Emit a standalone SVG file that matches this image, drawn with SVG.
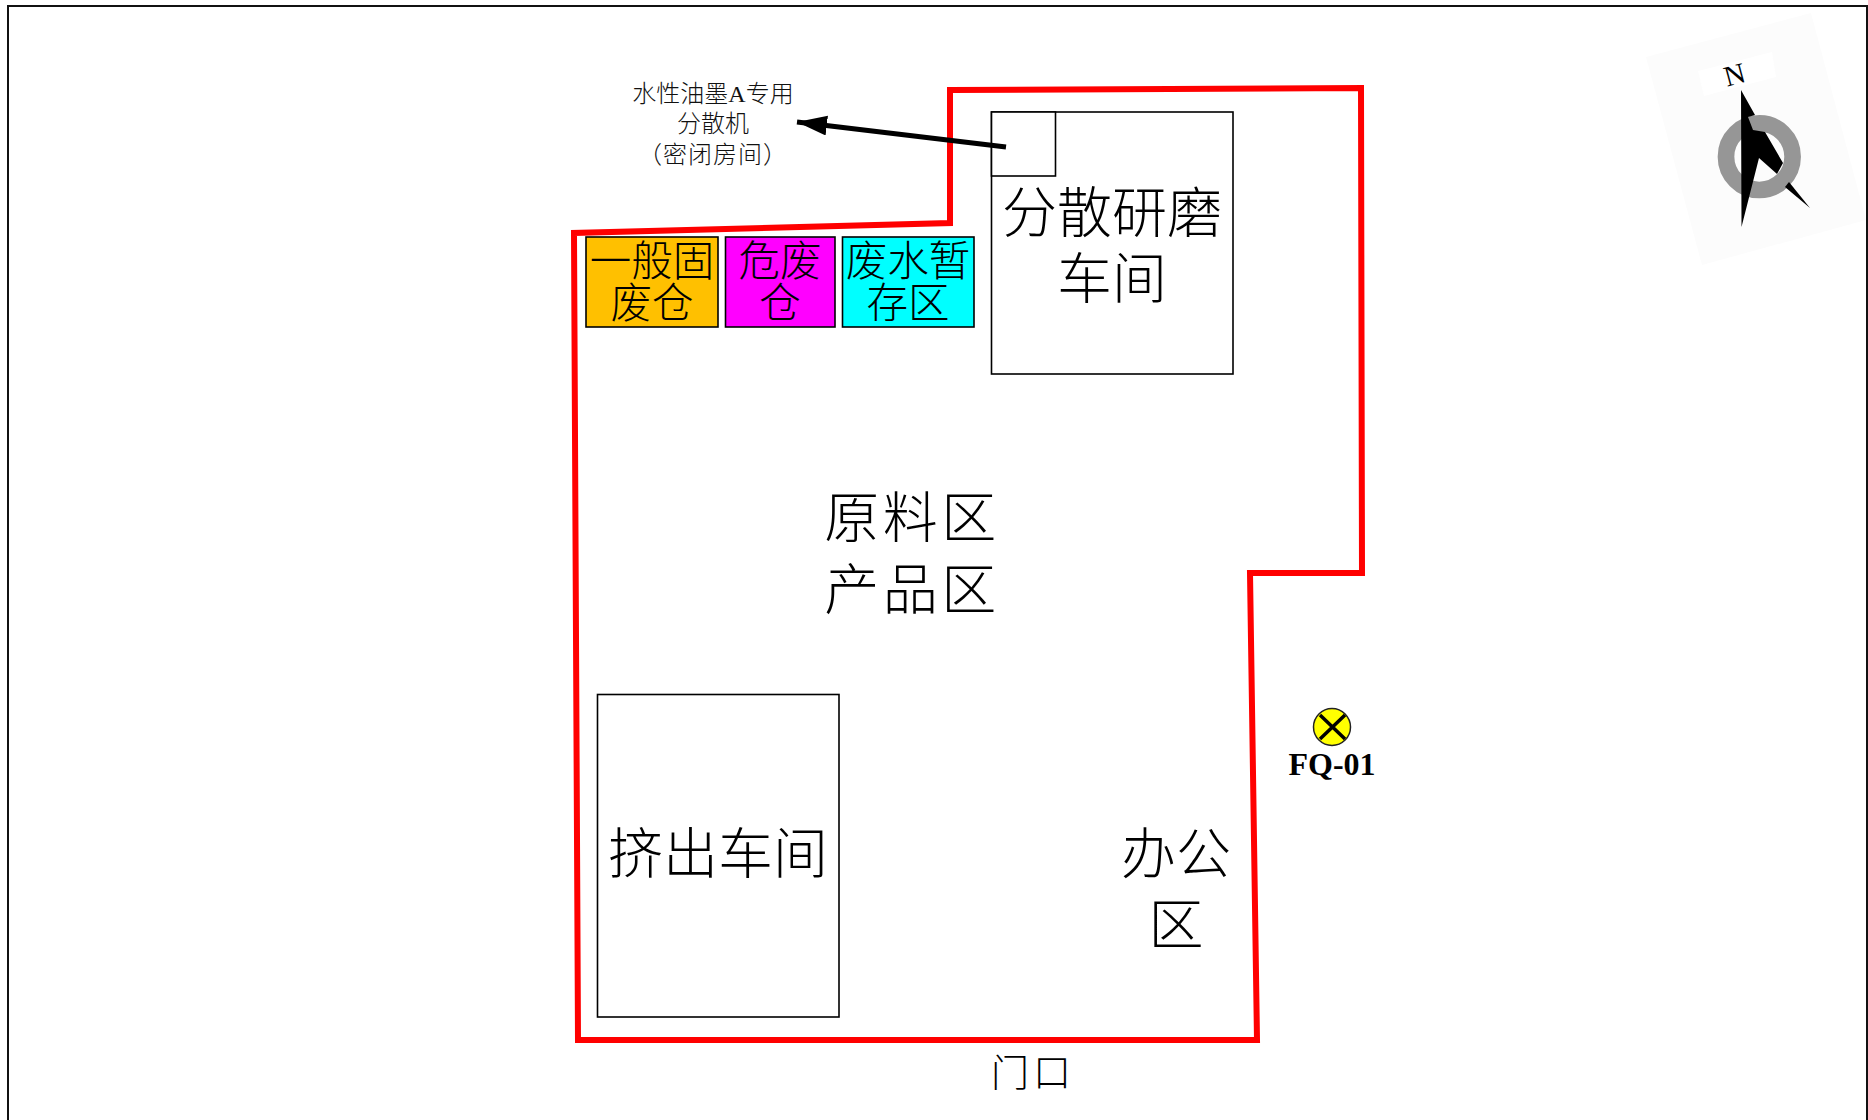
<svg xmlns="http://www.w3.org/2000/svg" width="1868" height="1120" viewBox="0 0 1868 1120">
<defs>
<style>
text{font-family:"Liberation Serif","Noto Sans CJK SC",serif;fill:#000;text-anchor:middle}
.box{stroke:#000;stroke-width:1.600;fill:#fff}
.c{stroke:#000;stroke-width:1.600}
.l{font-size:55px;font-weight:300}
.m{font-size:41.500px;font-weight:300}
.s{font-size:24px;font-weight:300;fill:#111}
</style>
<marker id="ah" markerUnits="userSpaceOnUse" markerWidth="32" markerHeight="24" refX="30" refY="10" orient="auto"><path d="M0 0L30 10L0 20Z" fill="#000"/></marker>
</defs>
<rect width="1868" height="1120" fill="#fff"/>
<rect id="frame" x="8" y="6" width="1859" height="1130" fill="none" stroke="#111" stroke-width="2"/>
<g id="site"><path d="M950 90L1361 88L1362 573L1250 573L1257 1040L578 1040L574 233L950 223Z" fill="none" stroke="#f00" stroke-width="6"/></g>
<g id="gfc"><rect class="c" x="586" y="237" width="132" height="90" fill="#ffc000"/><text class="m" x="652" y="276">一般固</text><text class="m" x="652" y="318">废仓</text></g>
<g id="wfc"><rect class="c" x="725.500" y="237" width="109.500" height="90" fill="#f0f"/><text class="m" x="780" y="276">危废</text><text class="m" x="780" y="318">仓</text></g>
<g id="fsq"><rect class="c" x="842.500" y="237" width="131.500" height="90" fill="#0ff"/><text class="m" x="908" y="276">废水暂</text><text class="m" x="908" y="318">存区</text></g>
<g id="fsym"><rect class="box" x="991.500" y="112" width="241.500" height="262"/><text class="l" x="1112" y="232">分散研磨</text><text class="l" x="1112" y="298">车间</text></g>
<g id="room"><rect class="box" x="991.500" y="112" width="64" height="64"/></g>
<g id="material"><text class="l" x="912" y="537" letter-spacing="3.500">原料区</text><text class="l" x="912" y="609" letter-spacing="3.500">产品区</text></g>
<g id="jc"><rect class="box" x="597.500" y="694.500" width="241.500" height="322.500"/><text class="l" x="718" y="873">挤出车间</text></g>
<g id="office"><text class="l" x="1176" y="873">办公</text><text class="l" x="1176" y="944">区</text></g>
<g id="door"><text x="1033" y="1086" font-size="38" font-weight="300" letter-spacing="4">门口</text></g>
<g id="note"><text class="s" x="713" y="102">水性油墨A专用</text><text class="s" x="713" y="132">分散机</text><text class="s" x="713" y="163" letter-spacing="1">（密闭房间）</text></g>
<g id="connectors"><path d="M1006 147L797 122" fill="none" stroke="#000" stroke-width="5" marker-end="url(#ah)"/></g>
<g id="fq"><circle cx="1332" cy="727" r="18.500" fill="#ff0" stroke="#222" stroke-width="1.500"/><path d="M1320 715L1345 739M1345 715L1320 739" stroke="#000" stroke-width="3.500"/><text x="1332" y="775" font-size="32" font-weight="700">FQ-01</text></g>
<g id="compass">
<path d="M1646 57L1811 13L1866 220L1702 265Z" fill="#fcfcfc"/>
<path d="M1698 71L1772 52L1776 77L1704 96Z" fill="#fff"/>
<circle cx="1759.300" cy="156.700" r="33.300" fill="none" stroke="#969696" stroke-width="16.700"/>
<path d="M1741 90L1755 115L1748 117L1753 130L1765 132L1783 163L1777 174L1759 158L1741.500 227Z" fill="#000"/>
<path d="M1789 182L1810 208L1785 187Z" fill="#000"/>
<text x="0" y="0" font-size="29" transform="translate(1737 84) rotate(-15)">N</text>
</g>
</svg>
